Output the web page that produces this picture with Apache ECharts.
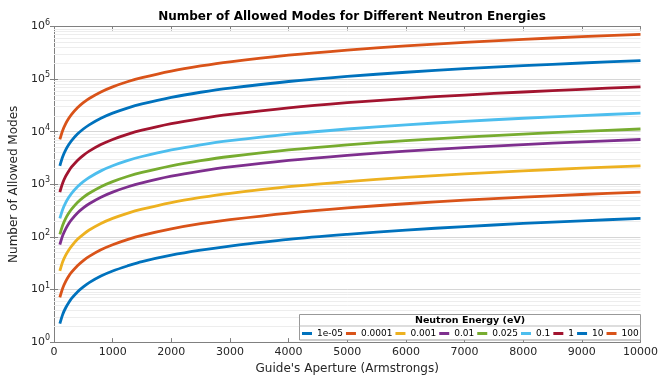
<!DOCTYPE html>
<html><head><meta charset="utf-8">
<script src="https://cdn.jsdelivr.net/npm/echarts@6/dist/echarts.min.js"></script>
<style>html,body{margin:0;padding:0;background:#fff}#c{width:661px;height:380px}</style>
</head><body><div id="c"></div>
<script>
const aperture = [100,150,200,250,300,400,500,600,800,1000,1250,1500,2000,2500,3000,4000,5000,6000,7000,8000,9000,10000];
const energies = ['1e-05','0.0001','0.001','0.01','0.025','0.1','1','10','100'];
const modes_1e05 = [2.25,3.4,4.5,5.6,6.75,9,11.2,13.5,18,22.5,28,34,45,56,67,90,112,135,157,180,202,225];
const modes_1e04 = [7.1,10.7,14.2,17.8,21.3,28.4,35.5,42.7,57,71,89,107,142,178,213,284,355,427,498,569,640,711];
const modes_1e03 = [22.5,34,45,56,67,90,112,135,180,225,281,337,450,562,675,900,1125,1350,1575,1800,2025,2250];
const modes_1e02 = [71,107,142,178,213,284,355,427,569,711,889,1067,1423,1778,2134,2845,3557,4268,4980,5691,6403,7114];
const modes_0025 = [112,169,225,281,337,450,562,675,900,1125,1406,1687,2250,2812,3375,4500,5625,6750,7875,9000,10125,11250];
const modes_01 = [225,337,450,562,675,900,1125,1350,1800,2250,2812,3375,4500,5625,6750,9000,11250,13500,15750,18000,20250,22500];
const modes_1 = [711,1067,1423,1778,2134,2845,3557,4268,5691,7114,8892,10670,14230,17780,21340,28450,35570,42680,49800,56910,64030,71140];
const modes_10 = [2250,3375,4500,5625,6750,9000,11250,13500,18000,22500,28120,33750,45000,56250,67500,90000,112500,135000,157500,180000,202500,225000];
const modes_100 = [7114,10670,14230,17780,21340,28450,35570,42680,56910,71140,88920,106700,142300,177800,213400,284500,355700,426800,498000,569100,640300,711400];
const allModes = [modes_1e05,modes_1e04,modes_1e03,modes_1e02,modes_0025,modes_01,modes_1,modes_10,modes_100];
const colors = ['#0072BD','#D95319','#EDB120','#7E2F8E','#77AC30','#4DBEEE','#A2142F','#0072BD','#D95319'];
const minorMultipliers = [2,3,4,5,6,7,8,9];
const decades = [1,10,100,1000,10000,100000];

const minorLines = [];
decades.forEach(d => minorMultipliers.forEach(m => minorLines.push({yAxis: m*d})));

const FONT = 'DejaVu Sans';
const series = energies.map((e,i) => ({
  name: e, type: 'line', showSymbol: false, smooth: 0.3,
  data: aperture.map((x,j) => [x, allModes[i][j]]),
  lineStyle: {width: 2.8, color: colors[i]}, itemStyle: {color: colors[i]},
  z: 5, silent: true
}));
series.push({
  type: 'line', data: [], silent: true, z: 1,
  markLine: {silent: true, z: 1, symbol: 'none', label: {show: false}, animation: false,
    lineStyle: {color: '#ededed', width: 1, type: 'solid'}, data: minorLines}
});

const chart = echarts.init(document.getElementById('c'), null, {renderer: 'canvas'});
chart.setOption({
  animation: false,
  color: colors,
  title: {text: 'Number of Allowed Modes for Different Neutron Energies', left: 347, textAlign: 'center', top: 6,
    textStyle: {fontFamily: FONT, fontSize: 12, fontWeight: 'bold', color: '#000'}},
  grid: {left: 51, right: 17, top: 26.5, bottom: 33.5, containLabel: false},
  xAxis: [{
    type: 'value', min: 0, max: 10000, interval: 1000, position: 'bottom',
    name: "Guide's Aperture (Armstrongs)", nameLocation: 'middle', nameGap: 20,
    nameTextStyle: {fontFamily: FONT, fontSize: 12, color: '#262626'},
    axisLine: {lineStyle: {color: '#808080'}},
    axisTick: {inside: true, length: 4, lineStyle: {color: '#808080'}},
    axisLabel: {fontFamily: FONT, fontSize: 11, color: '#262626', margin: 5, formatter: v => String(v)},
    splitLine: {show: false}
  },{
    type: 'value', min: 0, max: 10000, interval: 1000, position: 'top',
    axisLine: {lineStyle: {color: '#808080'}},
    axisTick: {inside: true, length: 4, lineStyle: {color: '#808080'}},
    axisLabel: {show: false}, splitLine: {show: false}
  }],
  yAxis: [{
    type: 'log', logBase: 10, min: 1, max: 1000000, position: 'left',
    name: 'Number of Allowed Modes', nameLocation: 'middle', nameGap: 27,
    nameTextStyle: {fontFamily: FONT, fontSize: 12, color: '#262626'},
    axisLine: {show: true, lineStyle: {color: '#808080'}},
    axisTick: {inside: true, length: 4, lineStyle: {color: '#808080'}},
    axisLabel: {fontFamily: FONT, fontSize: 11, color: '#262626', margin: 4,
      formatter: v => '10{s|' + Math.round(Math.log10(v)) + '}',
      rich: {s: {fontFamily: FONT, fontSize: 8, verticalAlign: 'top', padding: [0,0,8,0], color: '#262626'}}},
    splitLine: {show: true, lineStyle: {color: '#d6d6d6'}}
  },{
    type: 'log', logBase: 10, min: 1, max: 1000000, position: 'right',
    axisLine: {show: true, lineStyle: {color: '#808080'}},
    axisTick: {inside: true, length: 4, lineStyle: {color: '#808080'}},
    axisLabel: {show: false}, splitLine: {show: false}
  }],
  legend: {
    data: energies, left: 302, top: 329, width: 355, orient: 'horizontal', padding: 0,
    itemWidth: 10, itemHeight: 3, itemGap: 3, icon: 'rect', z: 10,
    textStyle: {fontFamily: FONT, fontSize: 9, color: '#000'}
  },
  graphic: [
    {type: 'rect', z: 8, shape: {x: 299.5, y: 314.5, width: 341, height: 25.5},
      style: {fill: '#fff', stroke: '#999', lineWidth: 1}},
    {type: 'line', z: 9, shape: {x1: 299.5, y1: 326, x2: 640.5, y2: 326},
      style: {stroke: '#bbb', lineWidth: 1}},
    {type: 'text', z: 9, x: 470, y: 320.5,
      style: {text: 'Neutron Energy (eV)', fontFamily: FONT, fontSize: 9.5, fontWeight: 'bold',
        fill: '#000', textAlign: 'center', textVerticalAlign: 'middle'}}
  ],
  series: series
});
</script></body></html>
